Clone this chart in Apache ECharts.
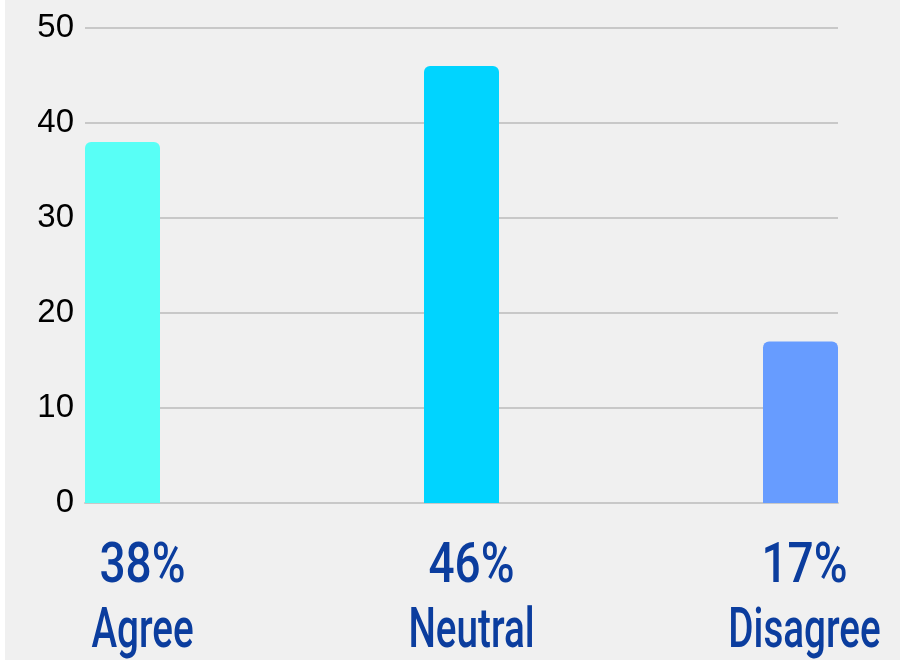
<!DOCTYPE html>
<html>
<head>
<meta charset="utf-8">
<script src="https://cdn.jsdelivr.net/npm/echarts@6/dist/echarts.min.js"></script>
<style>
  html, body { margin: 0; padding: 0; background: #ffffff; overflow: hidden; }
  #chart { width: 900px; height: 660px; }
</style>
</head>
<body>
<div id="chart"></div>
<script>
// Survey response shares
const categories = ['Agree', 'Neutral', 'Disagree'];
const values = [38, 46, 17];
const percentLabels = ['38%', '46%', '17%'];
const yTicks = [0, 10, 20, 30, 40, 50];

const barColors = ['#58fff6', '#00d4ff', '#679cff'];
const labelColor = '#0b3d9e';
// horizontal nudge of each category caption relative to its bar (px)
const captionShift = [20, 10, 4];

const chart = echarts.init(document.getElementById('chart'), null, { width: 900, height: 660 });

const halfBar = 37.5 / 339;

chart.setOption({
  backgroundColor: '#f0f0f0',
  animation: false,
  grid: { left: 85, right: 62, top: 28, bottom: 157, containLabel: false },
  xAxis: {
    type: 'value',
    min: -halfBar,
    max: categories.length - 1 + halfBar,
    splitLine: { show: false },
    axisTick: { show: false },
    axisLabel: { show: false },
    axisLine: { show: true, lineStyle: { color: '#c8c8c8', width: 2 } }
  },
  yAxis: {
    type: 'value',
    min: yTicks[0],
    max: yTicks[yTicks.length - 1],
    interval: 10,
    axisLine: { show: false },
    axisTick: { show: false },
    axisLabel: {
      margin: 11,
      fontSize: 33,
      color: '#000000',
      fontFamily: '"Liberation Sans", Arial, sans-serif'
    },
    splitLine: { lineStyle: { color: '#c8c8c8', width: 2 } }
  },
  series: [{
    type: 'bar',
    barWidth: 75,
    clip: false,
    data: values.map((v, i) => ({
      value: [i, v],
      itemStyle: { color: barColors[i], borderRadius: [6, 6, 0, 0] }
    }))
  }]
});

// Condensed two-line captions under each bar, placed through the axis scales
const captionFont = '500 56px Roboto, "Noto Sans", sans-serif';
const lineOffsets = [65, 130];
const lineSqueeze = [0.82, 0.69];
const graphics = [{
  type: 'rect',
  left: 0, top: 0,
  shape: { width: 5, height: 660 },
  style: { fill: '#ffffff' },
  silent: true
}];
categories.forEach((c, i) => {
  const p = chart.convertToPixel({ xAxisIndex: 0, yAxisIndex: 0 }, [i, 0]);
  const cx = p[0] + captionShift[i];
  [percentLabels[i], c].forEach((txt, line) => {
    graphics.push({
      type: 'text',
      x: cx,
      y: p[1] + lineOffsets[line],
      scaleX: lineSqueeze[line],
      silent: true,
      style: {
        text: txt,
        font: captionFont,
        fill: labelColor,
        align: 'center',
        verticalAlign: 'middle'
      }
    });
  });
});
chart.setOption({ graphic: graphics });
</script>
</body>
</html>
